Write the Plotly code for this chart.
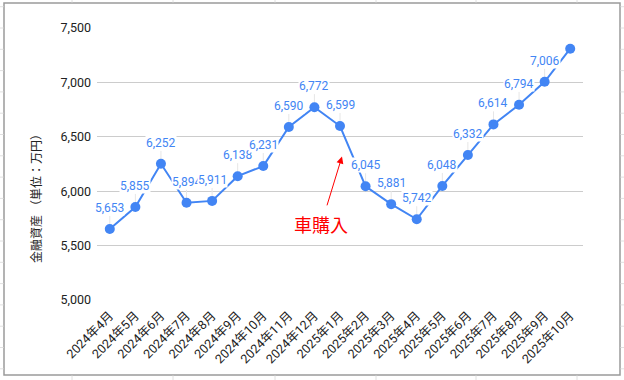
import plotly.graph_objects as go

months = ["2024年4月", "2024年5月", "2024年6月", "2024年7月", "2024年8月", "2024年9月",
          "2024年10月", "2024年11月", "2024年12月", "2025年1月", "2025年2月", "2025年3月",
          "2025年4月", "2025年5月", "2025年6月", "2025年7月", "2025年8月", "2025年9月",
          "2025年10月"]
assets = [5653, 5855, 6252, 5894, 5911, 6138, 6231, 6590, 6772, 6599, 6045, 5881,
          5742, 6048, 6332, 6614, 6794, 7006, 7310]
show_label = [True] * 18 + [False]
y_ticks = [5000, 5500, 6000, 6500, 7000, 7500]
y_title = "金融資産 （単位：万円）"
note_text = "車購入"

W, H = 624, 380
L, R, T, B = 97, 583, 28, 300
FONT = "Roboto, 'Noto Sans CJK JP', sans-serif"
BLUE = "#4285F4"


def px(x):
    return (x - L) / (R - L)


def py(y):
    return (B - y) / (B - T)


fig = go.Figure()
fig.add_trace(go.Scatter(
    x=months, y=assets, mode="lines+markers",
    line=dict(color=BLUE, width=2),
    marker=dict(color=BLUE, size=10),
    error_y=dict(type="data", symmetric=False, array=[120] * 18 + [0],
                 arrayminus=[0] * len(assets), color="#e6e6e6", thickness=1, width=0),
    showlegend=False, hoverinfo="skip",
))

annotations = []
for m, v, s in zip(months, assets, show_label):
    if s:
        annotations.append(dict(
            x=m, y=v, xref="x", yref="y", text=f"{v:,}", showarrow=False,
            yshift=21, font=dict(family=FONT, size=12, color=BLUE),
            bgcolor="white", borderpad=0,
        ))

annotations.append(dict(
    x=px(28), y=py(196), xref="paper", yref="paper", text=y_title, textangle=-90,
    showarrow=False, font=dict(family=FONT, size=12, color="#222222"),
))

annotations.append(dict(
    x=px(342), y=py(156.5), xref="paper", yref="paper", text=note_text,
    showarrow=True, ax=-21, ay=68.5, arrowhead=2, arrowsize=1.4, arrowwidth=1,
    arrowcolor="#ff0000", startstandoff=8,
    font=dict(family=FONT, size=18, color="#ff0000"),
))

shapes = []
# chart border
shapes.append(dict(type="rect", xref="paper", yref="paper",
                   x0=px(4), x1=px(620), y0=py(3), y1=py(375),
                   line=dict(color="#9a9a9a", width=1.5), layer="below"))
# spreadsheet cell lines outside the chart border
for k in range(18):
    yy = 6.7 + 21.3 * k
    for xa, xb in ((0, 3.5), (620.5, 624)):
        shapes.append(dict(type="line", xref="paper", yref="paper",
                           x0=px(xa), x1=px(xb), y0=py(yy), y1=py(yy),
                           line=dict(color="#e0e0e0", width=1), layer="below"))
for xx in (72, 173, 275, 376, 476, 577):
    for ya, yb in ((0, 2.5), (375.5, 380)):
        shapes.append(dict(type="line", xref="paper", yref="paper",
                           x0=px(xx), x1=px(xx), y0=py(ya), y1=py(yb),
                           line=dict(color="#e0e0e0", width=1), layer="below"))

fig.update_layout(
    width=W, height=H,
    margin=dict(l=L, r=W - R, t=T, b=H - B, pad=0),
    paper_bgcolor="white", plot_bgcolor="white",
    font=dict(family=FONT, size=12, color="#222222"),
    annotations=annotations, shapes=shapes,
    showlegend=False,
)
fig.update_xaxes(
    type="category", tickangle=-45, showgrid=False, showline=False, zeroline=False,
    ticks="", tickfont=dict(family=FONT, size=12.5, color="#222222"), automargin=False,
    range=[-0.5, len(months) - 0.5], ticklabelstandoff=5,
)
fig.update_yaxes(
    range=[5000, 7500], tickvals=y_ticks, tickformat=",", showgrid=True,
    gridcolor="#cccccc", gridwidth=1, zeroline=False, showline=False, ticks="",
    tickfont=dict(family=FONT, size=12.5, color="#222222"), automargin=False,
    ticklabelstandoff=5,
)

fig.write_html("out.html")
